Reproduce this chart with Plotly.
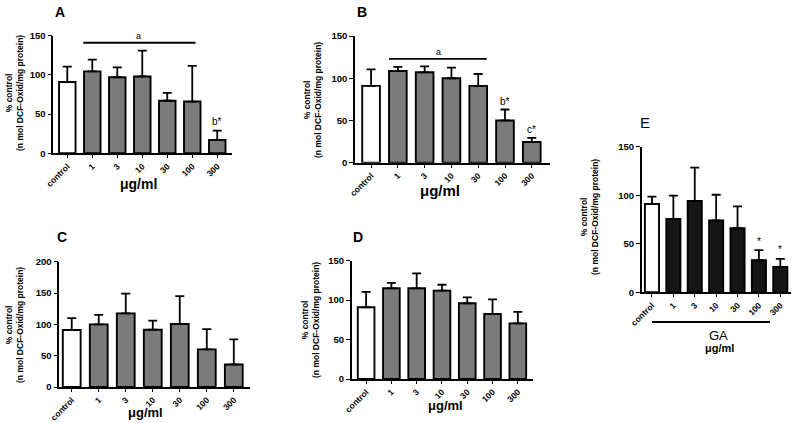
import plotly.graph_objects as go

W, H = 795, 423
categories = ["control", "1", "3", "10", "30", "100", "300"]

a_mean = [91, 104.5, 97, 98, 67, 66, 17]
a_sd = [19.5, 15, 12.5, 33, 10, 45.5, 12]
b_mean = [91, 108.5, 107, 100, 91, 50, 24.5]
b_sd = [19.5, 5, 7, 12.5, 14, 13, 5]
c_mean = [91, 100, 117.5, 91.5, 100.5, 60, 36]
c_sd = [19, 15, 31.5, 14.5, 44.5, 32.5, 40]
d_mean = [91, 115, 115, 112, 96, 82.5, 70.5]
d_sd = [19.5, 7, 19, 7.5, 7.5, 18.5, 14.5]
e_mean = [91, 75.5, 94, 74, 66, 33, 26]
e_sd = [7.5, 24, 34.5, 26.5, 22.5, 10.5, 8.5]

FONT = "Arial, Liberation Sans, sans-serif"
ytitle = "% control<br>(n mol DCF-Oxid/mg protein)"

def fx(px):
    return px / W

def fy(py):
    return 1 - py / H

# panel: (name, means, sds, treated colour, x px range, y px range, x index range, y max, tick step)
panels = [
    ("A", a_mean, a_sd, "#7b7b7b", (53.3, 232), (35.7, 153.3), (-0.56, 6.59), 150, 50),
    ("B", b_mean, b_sd, "#7b7b7b", (355, 550), (36, 162.7), (-0.6, 6.68), 150, 50),
    ("C", c_mean, c_sd, "#7b7b7b", (59.3, 250), (261.7, 387), (-0.46, 6.6), 200, 50),
    ("D", d_mean, d_sd, "#7b7b7b", (351.7, 533), (260.7, 379), (-0.57, 6.6), 150, 50),
    ("E", e_mean, e_sd, "#161616", (641.7, 791), (146.7, 292.3), (-0.48, 6.5), 150, 50),
]

fig = go.Figure()
layout = dict(
    width=W, height=H, margin=dict(l=0, r=0, t=0, b=0, autoexpand=False),
    paper_bgcolor="white", plot_bgcolor="white", showlegend=False,
    font=dict(family=FONT, color="black"),
)
annotations = []
shapes = []

for i, (name, means, sds, col, xr, yr, xrange, ymax, step) in enumerate(panels):
    k = "" if i == 0 else str(i + 1)
    xa, ya = "x" + k, "y" + k
    colors = ["white"] + [col] * (len(categories) - 1)
    fig.add_trace(go.Bar(
        x=categories, y=means, xaxis=xa, yaxis=ya, width=0.66,
        marker=dict(color=colors, line=dict(color="black", width=1.9)),
        error_y=dict(type="data", symmetric=False, array=sds,
                     arrayminus=[0] * len(sds), color="black",
                     thickness=1.8, width=4.5),
    ))
    layout["xaxis" + k] = dict(
        domain=[fx(xr[0]), fx(xr[1])], anchor=ya, type="category",
        range=list(xrange), showline=True, linecolor="black", linewidth=1.6,
        ticks="outside", ticklen=3, tickwidth=1.2, tickcolor="black",
        tickangle=-45, tickfont=dict(size=8.5, family=FONT, weight="bold"),
        showgrid=False, zeroline=False, fixedrange=True, automargin=False,
    )
    layout["yaxis" + k] = dict(
        domain=[fy(yr[1]), fy(yr[0])], anchor=xa,
        range=[0, ymax], tickvals=list(range(0, ymax + 1, step)),
        showline=True, linecolor="black", linewidth=1.6,
        ticks="outside", ticklen=4, tickwidth=1.2, tickcolor="black",
        tickfont=dict(size=9.5, family=FONT, weight="bold"),
        showgrid=False, zeroline=False, fixedrange=True, automargin=False,
    )

def pann(text, px, py, **kw):
    d = dict(text=text, x=fx(px), y=fy(py), xref="paper", yref="paper",
             xanchor="center", yanchor="middle", showarrow=False)
    d.update(kw)
    annotations.append(d)

# panel letters
for t, px, py, s, wgt in [("A", 60, 12, 14, "bold"), ("B", 362, 12, 14, "bold"),
                          ("C", 62, 237, 14, "bold"), ("D", 358, 237, 14, "bold"),
                          ("E", 645, 123, 15, "normal")]:
    pann(t, px, py, font=dict(size=s, weight=wgt, family=FONT))

# x-axis titles
for px, py, s in [(138, 184, 14), (440, 190, 15), (145, 412, 13), (445, 405, 13), (719, 348, 11)]:
    pann("μg/ml", px, py, font=dict(size=s, weight="bold", family=FONT))

# y-axis titles
for px, py in [(14, 93), (312, 100), (14, 325), (310, 320), (590, 217)]:
    pann(ytitle, px, py, textangle=-90, font=dict(size=8.5, weight="bold", family=FONT))

def dann(text, x, y, axis, size=10):
    annotations.append(dict(text=text, x=x, y=y, xref="x" + axis, yref="y" + axis,
                            xanchor="center", yanchor="bottom", showarrow=False,
                            font=dict(size=size)))

# significance marks
shapes.append(dict(type="line", xref="x", yref="y", x0=0.64, x1=5.13, y0=141, y1=141,
                   line=dict(color="black", width=1.8)))
dann("a", 2.85, 141, "", 9)
dann("b*", 6, 31, "")
shapes.append(dict(type="line", xref="x2", yref="y2", x0=0.67, x1=4.32, y0=122.8, y1=122.8,
                   line=dict(color="black", width=1.8)))
dann("a", 2.5, 123, "2", 9)
dann("b*", 5, 64, "2")
dann("c*", 6, 30, "2")
dann("*", 5, 45, "5")
dann("*", 6, 36, "5")

# GA bar under panel E labels
shapes.append(dict(type="line", xref="paper", yref="paper", x0=fx(652), x1=fx(770),
                   y0=fy(322), y1=fy(322), line=dict(color="black", width=2)))
pann("GA", 718, 335, font=dict(size=13, family=FONT))

layout["annotations"] = annotations
layout["shapes"] = shapes
fig.update_layout(**layout)
fig.write_html("out.html", config={"displayModeBar": False},
               post_script="document.body.style.margin='0';")
